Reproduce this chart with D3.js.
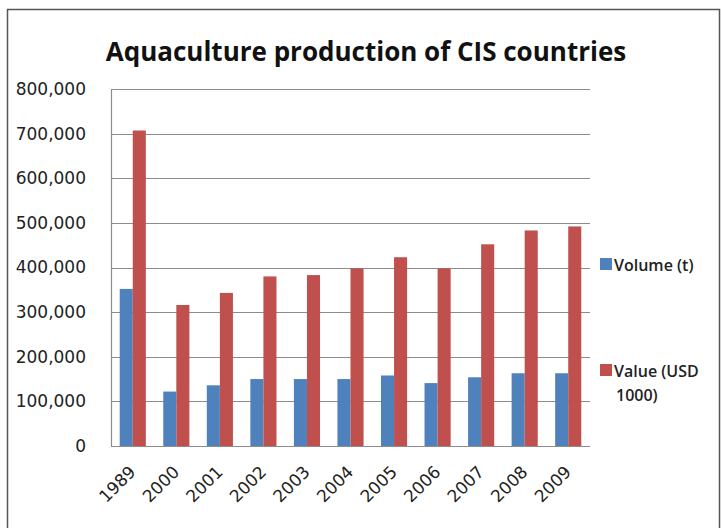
<!DOCTYPE html>
<html>
<head>
<meta charset="utf-8">
<script src="https://cdn.jsdelivr.net/npm/d3@7"></script>
<style>
  body { margin: 0; background: #fff; }
</style>
</head>
<body>
<svg id="chart" width="721" height="528"></svg>
<script>
const years = ["1989", "2000", "2001", "2002", "2003", "2004", "2005", "2006", "2007", "2008", "2009"];
const volume = [352000, 122000, 136000, 150000, 150000, 150000, 158000, 141000, 154000, 163000, 163000];
const value = [707000, 316000, 343000, 380000, 383000, 398000, 423000, 398000, 452000, 483000, 492000];
const seriesNames = ["Volume (t)", "Value (USD 1000)"];
const seriesColors = ["#4F81BD", "#C0504D"];
const yTicks = [0, 100000, 200000, 300000, 400000, 500000, 600000, 700000, 800000];

const svg = d3.select("#chart");
const margin = { top: 89, right: 131, bottom: 82, left: 111 };
const width = 721, height = 528;

// outer chart frame
svg.append("rect")
  .attr("x", 7.5).attr("y", 9.5)
  .attr("width", 712).attr("height", 530)
  .attr("fill", "none")
  .attr("stroke", "#555")
  .attr("stroke-width", 1.5);

svg.append("text")
  .attr("x", 366)
  .attr("y", 61)
  .attr("text-anchor", "middle")
  .style("font-family", "Open Sans")
  .style("font-weight", "bold")
  .style("font-size", "26px")
  .attr("fill", "#111")
  .text("Aquaculture production of CIS countries");

const x = d3.scaleBand()
  .domain(years)
  .range([margin.left, width - margin.right])
  .paddingInner(0.4)
  .paddingOuter(0.2);

const xs = d3.scaleBand()
  .domain([0, 1])
  .range([0, x.bandwidth()]);

const y = d3.scaleLinear()
  .domain([0, 800000])
  .range([height - margin.bottom, margin.top]);

// gridlines
svg.append("g")
  .selectAll("line")
  .data(yTicks)
  .join("line")
  .attr("x1", margin.left)
  .attr("x2", width - margin.right)
  .attr("y1", d => Math.round(y(d)) + 0.5)
  .attr("y2", d => Math.round(y(d)) + 0.5)
  .attr("stroke", "#8c8c8c")
  .attr("stroke-width", 1.2);

const yAxis = svg.append("g")
  .attr("transform", `translate(${margin.left},0)`)
  .call(d3.axisLeft(y).tickValues(yTicks).tickSize(0).tickPadding(25).tickFormat(d3.format(",")));
yAxis.select(".domain").attr("stroke", "#8c8c8c").attr("stroke-width", 1.2);
yAxis.selectAll("text")
  .style("font-family", "DejaVu Sans")
  .style("font-size", "17px")
  .attr("fill", "#222");

const xAxis = svg.append("g")
  .attr("transform", `translate(0,${height - margin.bottom})`)
  .call(d3.axisBottom(x).tickSize(0).tickPadding(0));
xAxis.select(".domain").remove();
xAxis.selectAll("text")
  .style("font-family", "DejaVu Sans")
  .style("font-size", "17px")
  .attr("fill", "#222")
  .attr("text-anchor", "end")
  .attr("dy", 0)
  .attr("transform", "translate(4,27) rotate(-45)");

const data = years.map((yr, i) => ({ yr, vals: [volume[i], value[i]] }));

svg.append("g")
  .selectAll("g")
  .data(data)
  .join("g")
  .attr("transform", d => `translate(${x(d.yr)},0)`)
  .selectAll("rect")
  .data(d => d.vals.map((v, s) => ({ v, s })))
  .join("rect")
  .attr("x", d => xs(d.s))
  .attr("width", xs.bandwidth())
  .attr("y", d => y(d.v))
  .attr("height", d => y(0) - y(d.v))
  .attr("fill", d => seriesColors[d.s]);

// legend
const legend = svg.append("g")
  .style("font-family", "Open Sans")
  .style("font-size", "16px")
  .style("font-weight", "600")
  .attr("fill", "#222");

const legendY = [258, 364];
legend.selectAll("rect")
  .data(seriesNames)
  .join("rect")
  .attr("x", 600)
  .attr("y", (d, i) => legendY[i])
  .attr("width", 12)
  .attr("height", 12)
  .attr("fill", (d, i) => seriesColors[i]);

legend.append("text").attr("x", 614).attr("y", 271).text("Volume (t)");
const vt = legend.append("text").attr("x", 614).attr("y", 377);
vt.append("tspan").text("Value (USD");
vt.append("tspan").attr("x", 616).attr("dy", 24).text("1000)");
</script>
</body>
</html>
